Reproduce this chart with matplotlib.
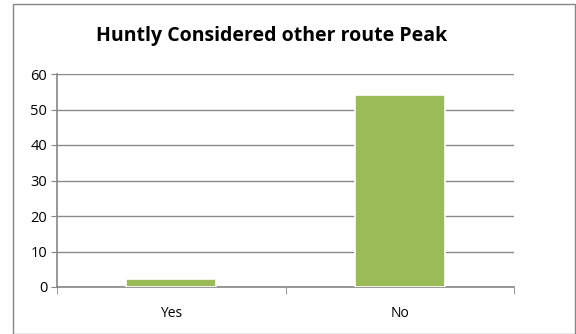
import matplotlib.pyplot as plt
from matplotlib.patches import Rectangle

categories = ['Yes', 'No']
values = [2.3, 54]
yticks = [0, 10, 20, 30, 40, 50, 60]

plt.rcParams['font.family'] = ['Open Sans', 'DejaVu Sans']

fig = plt.figure(figsize=(5.76, 3.34), dpi=100)
# outer chart border
fig.patches.append(Rectangle((13 / 576, 0.0), 1 - 13 / 576 - 0.002, 1 - 4 / 334,
                             transform=fig.transFigure, fill=False,
                             edgecolor='#868686', linewidth=1.0))

ax = fig.add_axes([57 / 576, 1 - 287 / 334, (514 - 57) / 576, (287 - 74) / 334])
ax.bar(range(len(categories)), values, width=0.395, color='#9bbb59',
       edgecolor='white', linewidth=1.2, zorder=3)

ax.set_xlim(-0.5, len(categories) - 0.5)
ax.set_ylim(0, 60)
ax.set_yticks(yticks)
ax.set_xticks(range(len(categories)))
ax.set_xticklabels(categories, fontsize=10)
ax.tick_params(axis='y', labelsize=10.5, length=4, color='#868686', pad=3)
ax.tick_params(axis='x', length=0, pad=14)
# minor ticks between categories
ax.set_xticks([-0.5, 0.5, 1.5], minor=True)
ax.tick_params(axis='x', which='minor', length=5, color='#868686')

ax.yaxis.grid(True, color='#8a8a8a', linewidth=1.0, zorder=0)
for side in ['top', 'right']:
    ax.spines[side].set_visible(False)
ax.spines['left'].set_color('#868686')
ax.spines['bottom'].set_color('#868686')
ax.spines['left'].set_linewidth(1.2)
ax.spines['bottom'].set_linewidth(1.2)

fig.text(272 / 576, 1 - 36 / 334, 'Huntly Considered other route Peak',
         ha='center', va='center', fontsize=14, fontweight='bold')

fig.savefig('out.png', dpi=100)
